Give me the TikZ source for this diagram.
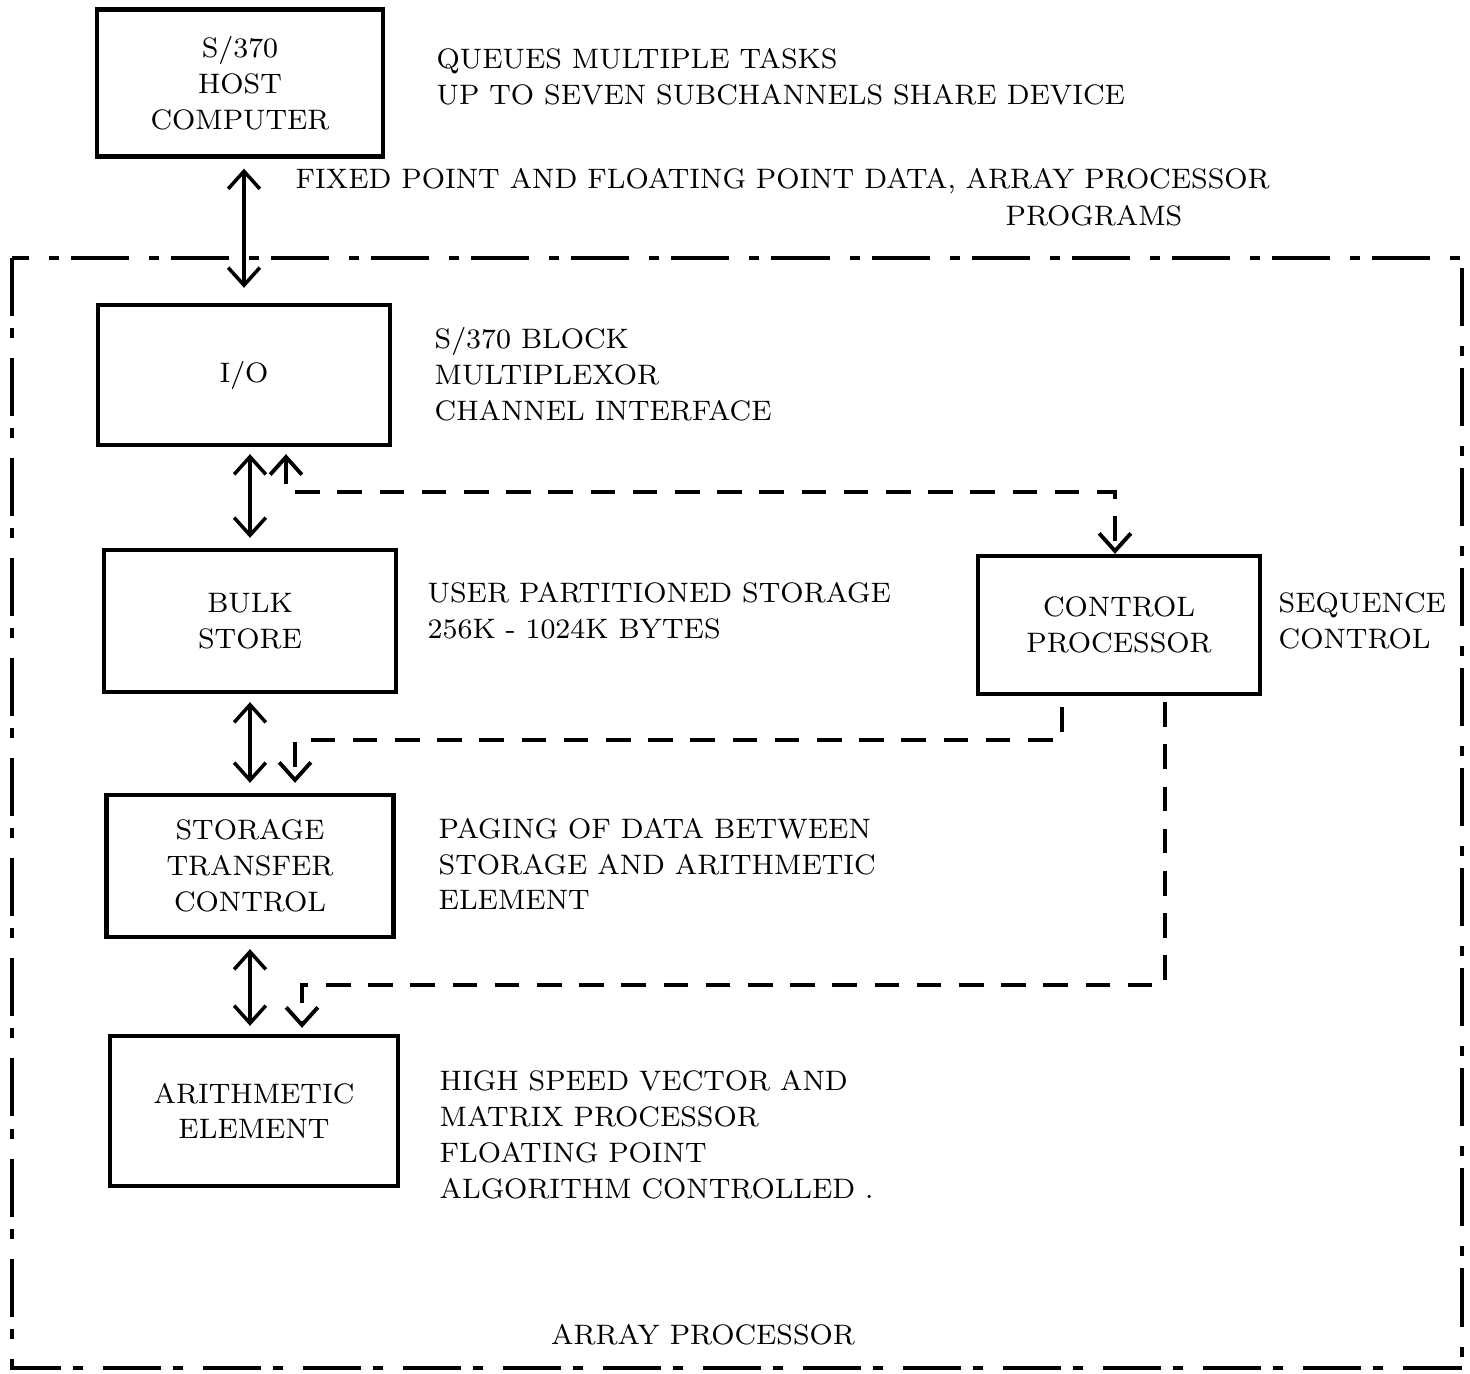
\documentclass[tikz,border=0pt]{standalone}
\usepackage{tikz}
\usetikzlibrary{arrows.meta}

\tikzset{
  unit/.style={draw, line width=1.2pt, inner sep=0pt, align=center,
    font=\fontsize{8pt}{10.2pt}\selectfont},
  link/.style={<->, line width=1pt},
  ctl/.style={line width=1.1pt, dash pattern=on 7pt off 5pt},
  lbl/.style={anchor=west, align=left, inner sep=0pt,
    font=\fontsize{8pt}{10.2pt}\selectfont},
  frame/.style={line width=1.4pt, dash pattern=on 0.58cm off 0.12cm on 0.1cm off 0.2cm},
  >={Straight Barb[length=5pt,width=9pt]}
}

\begin{document}
\begin{tikzpicture}[x=0.01cm,y=-0.01cm]
    \useasboundingbox (0,0) rectangle (1470,1374);

    % Define coordinates
    \coordinate (up1) at (286,492);
    \coordinate (dn1) at (1115,492);
    \coordinate (rt2) at (1062,740);
    \coordinate (lf2) at (295,740);
    \coordinate (rt3) at (1165,985);
    \coordinate (lf3) at (302,985);

    % Array processor boundary
    \draw[frame] (12,258) rectangle (1462,1368);

    % Blocks
    \node[unit, minimum width=2.86cm, minimum height=1.47cm] (host) at (240,83) {S/370\\HOST\\COMPUTER};
    \node[unit, minimum width=2.92cm, minimum height=1.40cm] (io) at (244,375) {I/O};
    \node[unit, minimum width=2.92cm, minimum height=1.42cm] (bulk) at (250,621) {BULK\\STORE};
    \node[unit, minimum width=2.87cm, minimum height=1.42cm] (stc) at (250,866) {STORAGE\\TRANSFER\\CONTROL};
    \node[unit, minimum width=2.88cm, minimum height=1.50cm] (ae) at (254,1111) {ARITHMETIC\\ELEMENT};
    \node[unit, minimum width=2.82cm, minimum height=1.38cm] (cp) at (1119,625) {CONTROL\\PROCESSOR};

    % Data paths
    \draw[link, shorten <=0.1cm, shorten >=0.15cm] (io.north |- host.south) -- (io.north);
    \draw[link, shorten <=0.07cm, shorten >=0.1cm] (io.south -| bulk.north) -- (bulk.north);
    \draw[link, shorten <=0.08cm, shorten >=0.1cm] (bulk.south) -- (stc.north);
    \draw[link, shorten <=0.1cm, shorten >=0.08cm] (stc.south) -- (stc.south |- ae.north);

    % Control paths
    \draw[ctl, <->, shorten <=0.07cm] (io.south -| up1) -- (up1) -- (dn1) -- (cp.north -| dn1);
    \draw[ctl, ->, shorten <=0.11cm, shorten >=0.1cm] (cp.south -| rt2) -- (rt2) -- (lf2) -- (stc.north -| lf2);
    \draw[ctl, ->, shorten <=0.06cm, shorten >=0.06cm] (cp.south -| rt3) -- (rt3) -- (lf3) -- (ae.north -| lf3);

    % Labels
    \node[lbl] (queues) at (436,77) {QUEUES MULTIPLE TASKS\\UP TO SEVEN SUBCHANNELS SHARE DEVICE};
    \node[lbl] (fixed) at (295,181) {FIXED POINT AND FLOATING POINT DATA, ARRAY PROCESSOR};
    \node[lbl] (progs) at (1005,216) {PROGRAMS};
    \node[lbl] (chan) at (434,374) {S/370 BLOCK\\MULTIPLEXOR\\CHANNEL INTERFACE};
    \node[lbl] (user) at (427,611) {USER PARTITIONED STORAGE\\256K - 1024K BYTES};
    \node[lbl] (seq) at (1278,621) {SEQUENCE\\CONTROL};
    \node[lbl] (paging) at (438,864) {PAGING OF DATA BETWEEN\\STORAGE AND ARITHMETIC\\ELEMENT};
    \node[lbl] (speed) at (439,1135) {HIGH SPEED VECTOR AND\\MATRIX PROCESSOR\\FLOATING POINT\\ALGORITHM CONTROLLED .};
    \node[lbl, anchor=center] (array) at (703,1335) {ARRAY PROCESSOR};
\end{tikzpicture}
\end{document}
